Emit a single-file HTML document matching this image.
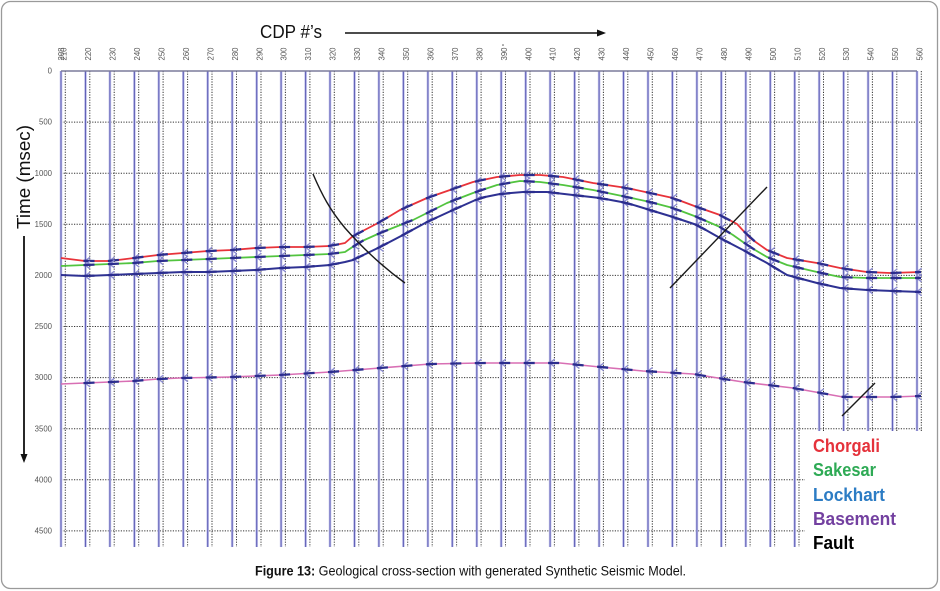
<!DOCTYPE html>
<html><head><meta charset="utf-8">
<style>
html,body{margin:0;padding:0;background:#fff;}
body{width:940px;height:591px;overflow:hidden;position:relative;font-family:"Liberation Sans",sans-serif;}
svg{position:absolute;left:0;top:0;}
</style></head>
<body>
<svg id="s" width="940" height="591" viewBox="0 0 940 591" xmlns="http://www.w3.org/2000/svg" font-family="Liberation Sans, sans-serif">
<rect x="1.5" y="1.5" width="936" height="587" rx="9" ry="9" fill="#fff" stroke="#9a9a9a" stroke-width="1.3"/>
<g id="gH" stroke="#333" stroke-width="1" stroke-dasharray="1.2,1.4" fill="none"></g>
<g id="gV" stroke="#333" stroke-width="1" stroke-dasharray="1.2,1.4" fill="none"></g>
<g id="gT" fill="none"></g>
<line x1="61" y1="71" x2="917" y2="71" stroke="#7c7c9c" stroke-width="1.5"/>
<g id="gHz" fill="none" stroke-linejoin="round"></g>
<g id="gM" fill="none"></g>
<g id="gF" fill="none" stroke="#1a1a1a" stroke-width="1.4">
  <path d="M313,174 C322,195 330,210 345,228 C360,245 380,265 405,283"/>
  <line x1="767" y1="187" x2="670" y2="288"/>
  <line x1="875" y1="383" x2="842" y2="416"/>
</g>
<g id="gLab" fill="#555" font-size="7.8"></g>
<circle cx="503" cy="45" r="0.8" fill="#555"/>
<rect x="805" y="431" width="131" height="128" fill="#fff"/>
<g font-weight="bold" font-size="18">
  <text x="813" y="452" fill="#e5323b" textLength="67" lengthAdjust="spacingAndGlyphs">Chorgali</text>
  <text x="813" y="476" fill="#2eaa55" textLength="63" lengthAdjust="spacingAndGlyphs">Sakesar</text>
  <text x="813" y="501" fill="#2c7cc4" textLength="72" lengthAdjust="spacingAndGlyphs">Lockhart</text>
  <text x="813" y="525" fill="#7340a0" textLength="83" lengthAdjust="spacingAndGlyphs">Basement</text>
  <text x="813" y="549" fill="#000" textLength="41" lengthAdjust="spacingAndGlyphs">Fault</text>
</g>
<text x="260" y="38" font-size="18" fill="#111" textLength="62" lengthAdjust="spacingAndGlyphs">CDP #’s</text>
<line x1="345" y1="33" x2="598" y2="33" stroke="#111" stroke-width="1.6"/>
<path d="M597,29.5 L606,33 L597,36.5 Z" fill="#111"/>
<text transform="translate(30,229) rotate(-90)" font-size="18" fill="#111" textLength="104" lengthAdjust="spacingAndGlyphs">Time (msec)</text>
<line x1="24" y1="236" x2="24" y2="455" stroke="#111" stroke-width="1.8"/>
<path d="M20.5,454 L24,463 L27.5,454 Z" fill="#111"/>
<text x="255" y="575.5" font-size="14" fill="#111" textLength="431" lengthAdjust="spacingAndGlyphs"><tspan font-weight="bold">Figure 13:</tspan> Geological cross-section with generated Synthetic Seismic Model.</text>
</svg>
<script>
(function(){
const NS="http://www.w3.org/2000/svg";
function el(tag,attrs,parent,text){const e=document.createElementNS(NS,tag);for(const k in attrs)e.setAttribute(k,attrs[k]);if(text!==undefined)e.textContent=text;parent.appendChild(e);return e;}
const gH=document.getElementById('gH'),gV=document.getElementById('gV'),gT=document.getElementById('gT'),
gHz=document.getElementById('gHz'),gM=document.getElementById('gM'),gLab=document.getElementById('gLab');
const step=24.457;
for(let i=0;i<=9;i++){const y=71+i*51.1;
  el('text',{x:52,y:(y+2.6).toFixed(1),'text-anchor':'end'},gLab,String(i*500));
  if(i>0) el('line',{x1:61,y1:y.toFixed(1),x2:922,y2:y.toFixed(1)},gH);
}
for(let k=0;k<=35;k++){
  const xd=65.3+k*step, xt=61+k*step;
  el('line',{x1:xd.toFixed(1),y1:71,x2:xd.toFixed(1),y2:547},gV);
  el('line',{x1:xt.toFixed(1),y1:71,x2:xt.toFixed(1),y2:547,stroke:'#c6c6ec','stroke-width':2.6},gT);
  el('line',{x1:xt.toFixed(1),y1:71,x2:xt.toFixed(1),y2:547,stroke:'#6262b8','stroke-width':1.1},gT);
  const n=210+10*k;
  el('text',{transform:'translate('+(xd-1.2).toFixed(1)+',54) rotate(-90)','text-anchor':'middle','dominant-baseline':'central'},gLab,String(n));
}
el('text',{transform:'translate(61.5,54) rotate(-90)','text-anchor':'middle','dominant-baseline':'central'},gLab,'208');
const red=[[61,258],[85,261],[110,261],[134,258],[158,255],[183,253],[208,251],[232,250],[256,248],[281,247],[305,247],[330,246],[345,243],[353,236],[380,222],[400,210],[427,198],[450,190],[473,182],[497,177],[520,175],[540,175],[563,177],[593,183],[627,188],[650,193],[673,198],[697,207],[720,215],[737,224],[750,238],[767,250],[787,258],[817,263],[840,268],[867,272],[890,273],[921,272]];
const green=[[61,266],[85,265],[110,264],[134,263],[158,261],[183,260],[208,259],[232,258],[256,257],[281,256],[305,255],[330,254],[345,252],[360,242],[380,233],[413,220],[447,203],[473,193],[497,185],[520,181],[540,182],[563,185],[593,190],[627,197],[650,202],[673,208],[697,217],[720,227],[733,235],[750,247],[767,257],[787,265],[817,272],[840,277],[867,278],[921,278]];
const blue=[[61,275],[85,276],[110,275],[134,274],[158,273],[183,272],[208,272],[232,271],[256,270],[281,268],[305,267],[330,265],[345,262],[353,260],[380,247],[403,235],[427,222],[453,210],[480,198],[500,194],[523,192],[547,192],[573,195],[600,198],[627,203],[650,210],[673,217],[697,225],[720,238],[743,250],[767,263],[787,275],[817,283],[840,288],[867,290],[921,292]];
const base=[[61,384],[85,383],[110,382],[134,381],[158,379],[180,378],[230,377],[280,375],[330,372],[380,368],[430,364],[480,363],[547,363],[560,363],[600,367],[643,371],[693,374],[743,382],[793,388],[843,397],[893,397],[921,396]];
function interp(p,x){if(x<=p[0][0])return p[0][1];for(let i=1;i<p.length;i++){if(x<=p[i][0]){const a=p[i-1],b=p[i];return a[1]+(b[1]-a[1])*(x-a[0])/(b[0]-a[0]);}}return p[p.length-1][1];}
const hz=[{p:red,c:'#e8333a',w:1.8},{p:green,c:'#52c43f',w:1.8},{p:blue,c:'#2e3192',w:2},{p:base,c:'#d86fb4',w:1.6}];
hz.forEach(h=>{el('polyline',{points:h.p.map(q=>q.join(',')).join(' '),stroke:h.c,'stroke-width':h.w},gHz);});
hz.forEach(h=>{
  for(let k=1;k<=35;k++){
    const tx=61+k*step,y=interp(h.p,tx),x1=tx-2,x2=Math.min(tx+9,921);
    el('path',{d:'M'+(tx+4.5).toFixed(1)+','+(y-3.8).toFixed(1)+' L'+(tx-0.5).toFixed(1)+','+y.toFixed(1)+' L'+(tx+4.5).toFixed(1)+','+(y+3.8).toFixed(1),stroke:'#8a8ad2','stroke-width':1.3},gM);
    el('line',{x1:x1.toFixed(1),y1:interp(h.p,x1).toFixed(1),x2:x2.toFixed(1),y2:interp(h.p,x2).toFixed(1),stroke:'#2b2d8e','stroke-width':2.3},gM);
  }
});
})();
</script>
</body></html>
